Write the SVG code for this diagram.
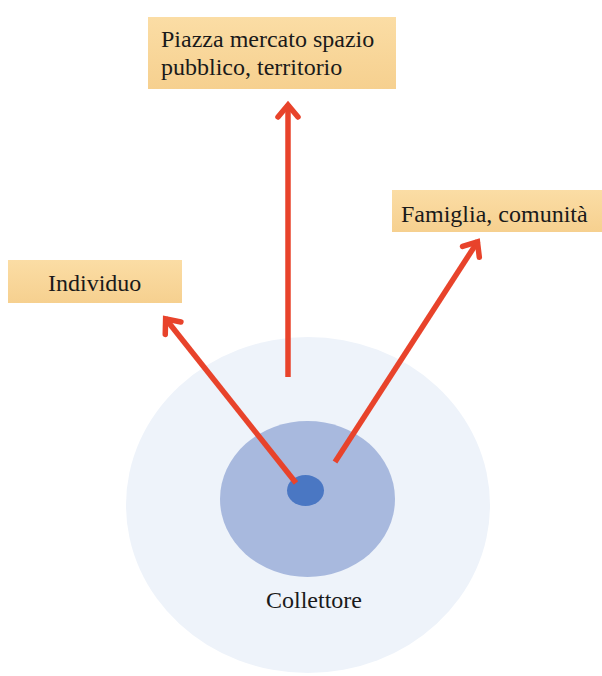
<svg xmlns="http://www.w3.org/2000/svg" width="602" height="676" viewBox="0 0 602 676">
  <style>
    .box { fill: url(#boxGrad); }
    .lbl { font-family: "Liberation Serif", "Times New Roman", serif; font-size: 24px; fill: #1a1a1a; }
    .arrow { stroke: #e8432b; stroke-width: 5.5; fill: none; stroke-linecap: butt; }
  </style>
  <defs>
    <linearGradient id="boxGrad" x1="0" y1="0" x2="0" y2="1">
      <stop offset="0" stop-color="#fbdda5"/>
      <stop offset="1" stop-color="#f6d08f"/>
    </linearGradient>
    <marker id="chev" markerUnits="userSpaceOnUse" viewBox="-20 -14 24 28" markerWidth="24" markerHeight="28" refX="0" refY="0" orient="auto">
      <path d="M-13,-10 L-1,0 L-13,10" fill="none" stroke="#e8432b" stroke-width="5.5" stroke-linecap="round" stroke-linejoin="miter"/>
    </marker>
  </defs>
  <rect width="602" height="676" fill="#ffffff"/>

  <g id="collettore">
    <ellipse cx="308" cy="505" rx="182" ry="168" fill="#eef3fa"/>
    <ellipse cx="307.5" cy="499" rx="87.5" ry="78" fill="#a8b9de"/>
    <ellipse cx="305.5" cy="490.5" rx="18.5" ry="15.5" fill="#4a77c3"/>
    <text class="lbl" x="314" y="608" text-anchor="middle">Collettore</text>
  </g>

  <g id="piazza">
    <rect class="box" x="148" y="17" width="248" height="72"/>
    <text class="lbl" x="161" y="47">Piazza mercato spazio</text>
    <text class="lbl" x="161" y="75">pubblico, territorio</text>
  </g>

  <g id="famiglia">
    <rect class="box" x="392" y="190" width="210" height="42"/>
    <text class="lbl" x="401" y="222">Famiglia, comunità</text>
  </g>

  <g id="individuo">
    <rect class="box" x="8" y="260" width="174" height="43"/>
    <text class="lbl" x="48" y="291">Individuo</text>
  </g>

  <g id="connectors">
    <line class="arrow" x1="288" y1="377" x2="288" y2="104" marker-end="url(#chev)"/>
    <line class="arrow" x1="296" y1="483" x2="165" y2="318" marker-end="url(#chev)"/>
    <line class="arrow" x1="335" y1="462" x2="478" y2="241" marker-end="url(#chev)"/>
  </g>
</svg>
